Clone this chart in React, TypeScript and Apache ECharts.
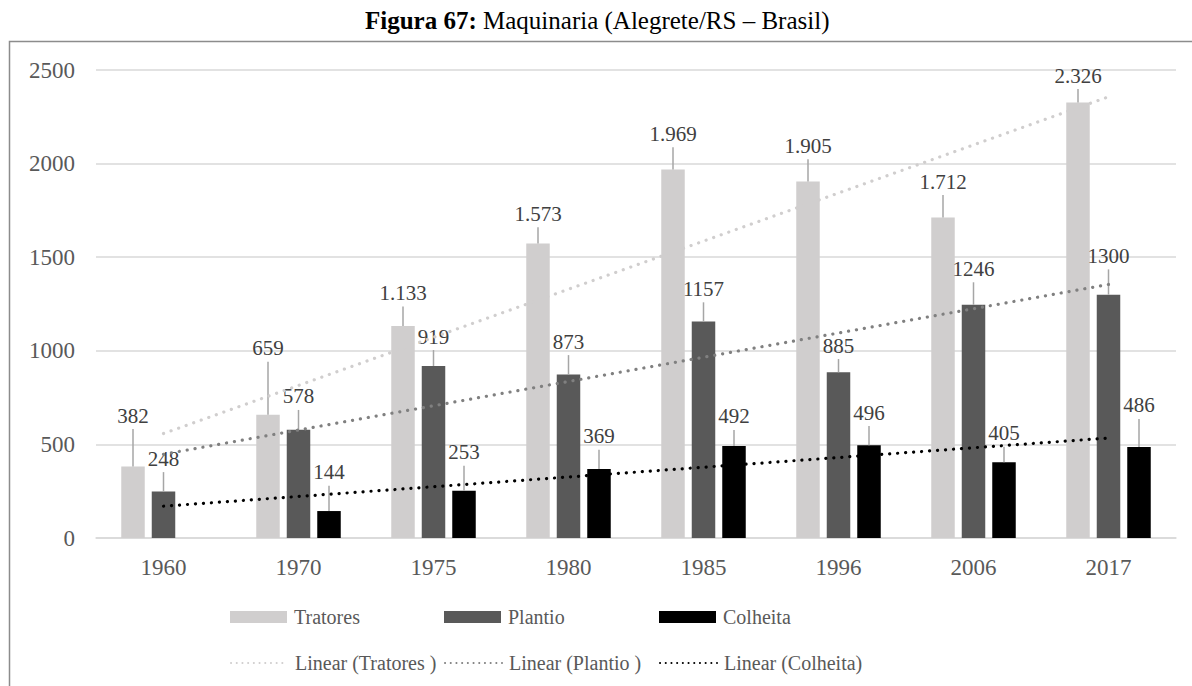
import React, { useEffect, useRef } from 'react';
import * as echarts from 'echarts';

const years = ['1960', '1970', '1975', '1980', '1985', '1996', '2006', '2017'];
const tratores: (number | null)[] = [382, 659, 1133, 1573, 1969, 1905, 1712, 2326];
const plantio: (number | null)[] = [248, 578, 919, 873, 1157, 885, 1246, 1300];
const colheita: (number | null)[] = [null, 144, 253, 369, 492, 496, 405, 486];
// where each data label sits (top of its leader line), in data units
const tratoresLabelAt: (number | null)[] = [582, 942, 1236, 1660, 2087, 2023, 1832, 2398];
const plantioLabelAt: (number | null)[] = [352, 684, 1004, 977, 1259, 956, 1366, 1435];
const colheitaLabelAt: (number | null)[] = [null, 279, 386, 472, 577, 598, 488, 636];
const yMax = 2500;
const yInterval = 500;

const FONT = '"Liberation Serif", "Times New Roman", serif';
const barColors = ['#d0cece', '#595959', '#000000'];
const trendColors = ['#d0cece', '#808080', '#000000'];
const barNames = ['Tratores', 'Plantio', 'Colheita'];
const trendNames = ['Linear (Tratores )', 'Linear (Plantio )', 'Linear (Colheita)'];

function linearTrend(vals: (number | null)[]): number[] {
  const pts = vals.map((v, i) => [i + 1, v] as [number, number | null]).filter((p) => p[1] != null) as [number, number][];
  const n = pts.length;
  const mx = pts.reduce((s, p) => s + p[0], 0) / n;
  const my = pts.reduce((s, p) => s + p[1], 0) / n;
  let sxy = 0;
  let sxx = 0;
  pts.forEach((p) => {
    sxy += (p[0] - mx) * (p[1] - my);
    sxx += (p[0] - mx) * (p[0] - mx);
  });
  const slope = sxy / sxx;
  const icpt = my - slope * mx;
  return vals.map((_, i) => +(icpt + slope * (i + 1)).toFixed(2));
}

function fmtThousands(v: number): string {
  return v >= 1000 ? Math.floor(v / 1000) + '.' + String(v % 1000).padStart(3, '0') : String(v);
}

const BAR_W = 23.5;
const BAR_GAP = 7;

export default function App() {
  const ref = useRef<HTMLDivElement>(null);
  useEffect(() => {
    if (!ref.current) return;
    const chart = echarts.init(ref.current, undefined, { renderer: 'svg' });
    const allVals = [tratores, plantio, colheita];
    const allLabelAt = [tratoresLabelAt, plantioLabelAt, colheitaLabelAt];
    const leaderData: number[][] = [];
    allVals.forEach((vals, s) =>
      vals.forEach((v, i) => {
        const top = allLabelAt[s][i];
        if (v != null && top != null) leaderData.push([i, v, top, s]);
      })
    );

    const legendBase = {
      orient: 'horizontal',
      padding: 0,
      itemWidth: 57,
      itemHeight: 12,
      textStyle: { fontFamily: FONT, fontSize: 20, color: '#595959', padding: [0, 0, 0, 2] },
      selectedMode: false,
    };
    const colX = [230, 444, 659];
    const legends: any[] = [];
    barNames.forEach((n, i) =>
      legends.push({ ...legendBase, data: [n], left: colX[i], top: 607, icon: 'rect' })
    );
    trendNames.forEach((n, i) =>
      legends.push({
        ...legendBase,
        data: [n],
        left: colX[i],
        top: 653,
        itemStyle: { opacity: 0, borderWidth: 0 },
        lineStyle: { width: 2, type: [0.1, 5.6], cap: 'round', opacity: 1 },
      })
    );

    const option: any = {
      animation: false,
      backgroundColor: '#ffffff',
      title: {
        text: '{b|Figura 67:} Maquinaria (Alegrete/RS – Brasil)',
        left: 360,
        top: 3,
        textStyle: {
          fontFamily: FONT,
          fontSize: 25,
          fontWeight: 'normal',
          color: '#000000',
          rich: { b: { fontFamily: FONT, fontSize: 25, fontWeight: 'bold', color: '#000000' } },
        },
      },
      legend: legends,
      graphic: [
        {
          type: 'rect',
          z: -10,
          shape: { x: 9.5, y: 41.5, width: 1400, height: 900 },
          style: { fill: 'none', stroke: '#8c8c8c', lineWidth: 1.5 },
          silent: true,
        },
      ],
      grid: { left: 96, right: 16, top: 70, height: 468, containLabel: false },
      xAxis: {
        type: 'category',
        data: years,
        axisLine: { show: true, lineStyle: { color: '#d9d9d9', width: 1.5 } },
        axisTick: { show: false },
        axisLabel: { fontFamily: FONT, fontSize: 23, color: '#595959', margin: 18 },
      },
      yAxis: {
        type: 'value',
        min: 0,
        max: yMax,
        interval: yInterval,
        axisLine: { show: false },
        axisTick: { show: false },
        splitLine: { lineStyle: { color: '#d9d9d9', width: 1.5 } },
        axisLabel: {
          fontFamily: FONT,
          fontSize: 23,
          color: '#595959',
          margin: 21,
          formatter: (v: number) => String(v),
        },
      },
      series: [
        ...allVals.map((vals, s) => ({
          name: barNames[s],
          type: 'bar',
          data: vals,
          barWidth: BAR_W,
          barGap: (BAR_GAP / BAR_W) * 100 + '%',
          itemStyle: { color: barColors[s] },
          z: 2,
        })),
        {
          type: 'custom',
          name: 'leaders',
          data: leaderData,
          z: 3,
          silent: true,
          renderItem: (params: any, api: any) => {
            const cat = api.value(0);
            const v = api.value(1);
            const top = api.value(2);
            const s = api.value(3);
            const base = api.coord([cat, v]);
            const topPt = api.coord([cat, top]);
            const x = base[0] + (s - 1) * (BAR_W + BAR_GAP);
            const text = s === 0 ? fmtThousands(v) : String(v);
            return {
              type: 'group',
              children: [
                {
                  type: 'line',
                  shape: { x1: x, y1: base[1], x2: x, y2: topPt[1] },
                  style: { stroke: '#a6a6a6', lineWidth: 1.5 },
                },
                {
                  type: 'text',
                  x: x,
                  y: topPt[1] - 3,
                  style: {
                    text,
                    fill: '#404040',
                    fontFamily: FONT,
                    fontSize: 21,
                    align: 'center',
                    verticalAlign: 'bottom',
                  },
                },
              ],
            };
          },
        },
        ...allVals.map((vals, s) => ({
          name: trendNames[s],
          type: 'line',
          data: linearTrend(vals),
          symbol: 'none',
          z: 4,
          lineStyle: { color: trendColors[s], width: 3.2, type: [0.1, 7.9], cap: 'round' },
          itemStyle: { color: trendColors[s] },
        })),
      ],
    };
    chart.setOption(option);
    return () => chart.dispose();
  }, []);
  return (
    <div
      ref={ref}
      style={{ position: 'absolute', left: 0, top: 0, width: 1192, height: 686, background: '#fff' }}
    />
  );
}
